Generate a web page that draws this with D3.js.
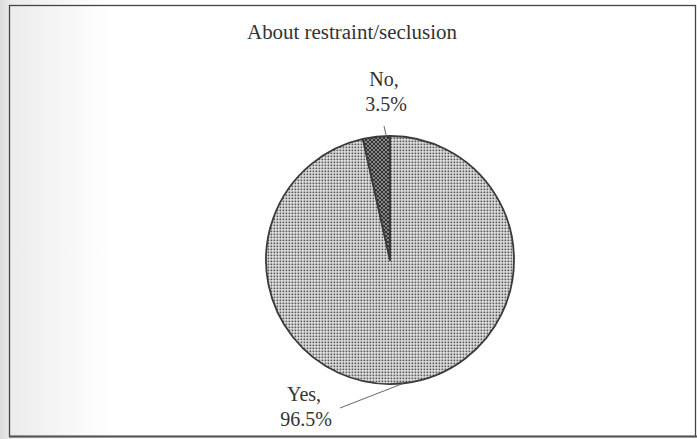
<!DOCTYPE html>
<html><head><meta charset="utf-8">
<script src="https://cdn.jsdelivr.net/npm/d3@7"></script>
<style>
html,body{margin:0;padding:0;background:#fff;}
svg{display:block;}
</style></head>
<body>
<svg id="chart" width="697" height="439"></svg>
<script>
const title = "About restraint/seclusion";
const categories = ["Yes", "No"];
const values = [96.5, 3.5];
const valueLabels = ["96.5%", "3.5%"];

const W = 697, H = 439;
const cx = 390, cy = 260, r = 124;
const FONT = "'Liberation Serif', 'DejaVu Serif', serif";
const svg = d3.select("#chart");
const defs = svg.append("defs");

// scan-like left shading
const lg = defs.append("linearGradient").attr("id","shade").attr("x1","0").attr("x2","1");
lg.append("stop").attr("offset","0").attr("stop-color","#dcdcdc");
lg.append("stop").attr("offset","0.1").attr("stop-color","#ececec");
lg.append("stop").attr("offset","1").attr("stop-color","#ffffff");
svg.append("rect").attr("x",0).attr("y",0).attr("width",W).attr("height",H).attr("fill","#fff");
svg.append("rect").attr("x",0).attr("y",0).attr("width",110).attr("height",H).attr("fill","url(#shade)");

// patterns
const dots = defs.append("pattern").attr("id","dots").attr("patternUnits","userSpaceOnUse")
  .attr("width",3).attr("height",3);
dots.append("rect").attr("width",3).attr("height",3).attr("fill","#ececec");
dots.append("rect").attr("x",0.5).attr("y",0.5).attr("width",1.8).attr("height",1.8).attr("fill","#555");

const hatch = defs.append("pattern").attr("id","hatch").attr("patternUnits","userSpaceOnUse")
  .attr("width",4).attr("height",4);
hatch.append("rect").attr("width",4).attr("height",4).attr("fill","#aaa");
hatch.append("path").attr("d","M0,4L4,0M-1,1L1,-1M3,5L5,3").attr("stroke","#2e2e2e").attr("stroke-width",1.1);
hatch.append("path").attr("d","M0,0L4,4M-1,3L1,5M3,-1L5,1").attr("stroke","#2e2e2e").attr("stroke-width",1.1);

const fills = {"Yes":"url(#dots)","No":"url(#hatch)"};

// frame
svg.append("rect").attr("x",9.5).attr("y",5.5).attr("width",686).attr("height",431)
  .attr("fill","none").attr("stroke","#444").attr("stroke-width",1.3);
svg.append("line").attr("x1",9).attr("x2",697).attr("y1",436.5).attr("y2",436.5)
  .attr("stroke","#555").attr("stroke-width",2);

// title
svg.append("text").attr("x",352).attr("y",39).attr("text-anchor","middle")
  .attr("font-family",FONT).attr("fill","#333")
  .attr("font-size",20).attr("textLength",210).attr("lengthAdjust","spacingAndGlyphs").text(title);

const data = categories.map((c,i)=>({cat:c, value:values[i], label:valueLabels[i]}));
const pie = d3.pie().sort(null).value(d=>d.value);
const arcs = pie(data);
const arc = d3.arc().innerRadius(0).outerRadius(r);

const g = svg.append("g").attr("transform",`translate(${cx},${cy})`);
g.selectAll("path.slice").data(arcs).join("path").attr("class","slice")
  .attr("d",arc).attr("fill",d=>fills[d.data.cat])
  .attr("stroke","#3a3a3a").attr("stroke-width",1.8).attr("stroke-linejoin","round");

// labels & leaders
const pt = (a, rad) => [Math.sin(a)*rad, -Math.cos(a)*rad];
const labelPos = {"No":{x:-6, y:-174, leaderEnd:[-6,-134], leaderAngleShift:0.08},
                  "Yes":{x:-86, y:141, leaderEnd:[-50,148], leaderAngleShift:0}};
arcs.forEach(d=>{
  const m = (d.startAngle + d.endAngle)/2;
  const lp = labelPos[d.data.cat];
  const e = pt(m + lp.leaderAngleShift, r);
  g.append("path").attr("d", d3.line()([e, lp.leaderEnd]))
    .attr("stroke","#555").attr("stroke-width",0.9).attr("fill","none");
  const t = g.append("text").attr("text-anchor","middle").attr("font-size",20)
    .attr("font-family",FONT).attr("fill","#333");
  t.append("tspan").attr("x",lp.x).attr("y",lp.y).text(d.data.cat + ",");
  t.append("tspan").attr("x",lp.x + 2).attr("y",lp.y + 25).text(d.data.label);
});
</script>
</body></html>
